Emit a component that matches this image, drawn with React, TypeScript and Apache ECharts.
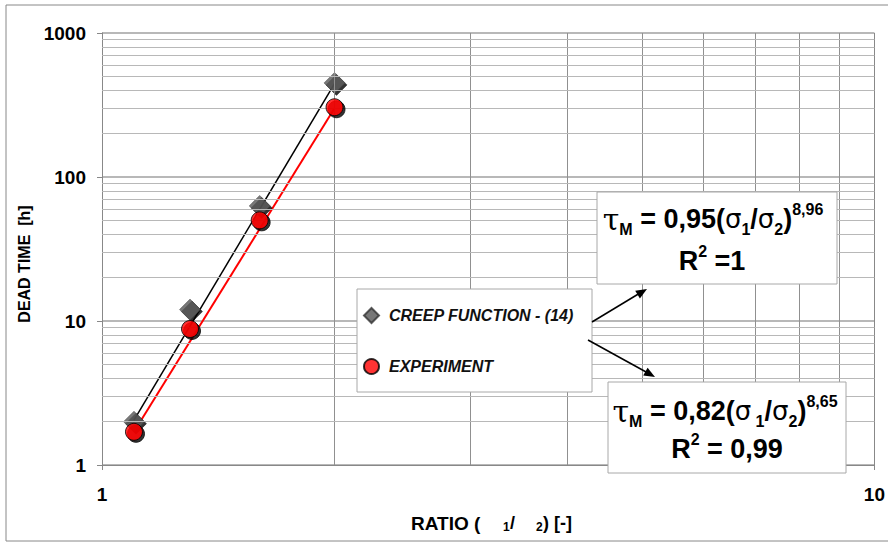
import React, { useEffect, useRef } from "react";
import * as echarts from "echarts";

const X_VALUES = [1.1, 1.3, 1.6, 2.0];
const CREEP = [2.0, 12, 63, 450];
const EXPERIMENT = [1.7, 8.8, 50, 305];
const FIT_X = [1.1, 2.0];
const CREEP_FIT = [2.05, 445];
const EXP_FIT = [1.7, 300];
const X_MINOR = [2, 3, 4, 5, 6, 7, 8, 9];
const Y_MINOR = [2, 3, 4, 5, 6, 7, 8, 9, 20, 30, 40, 50, 60, 70, 80, 90, 200, 300, 400, 500, 600, 700, 800, 900];
const LEGEND_NAMES = ["CREEP FUNCTION - (14)", "EXPERIMENT"];

const FONT = "'Liberation Sans', Arial, sans-serif";

export default function App() {
  const ref = useRef<HTMLDivElement>(null);
  useEffect(() => {
    if (!ref.current) return;
    const chart = echarts.init(ref.current, null, { renderer: "svg" });
    const shadow = { shadowColor: "#000", shadowBlur: 0, shadowOffsetX: 2, shadowOffsetY: 2 };
    const eqRich = {
      t: { fontFamily: "'DejaVu Serif', serif", fontSize: 30, fontWeight: "normal", color: "#000", lineHeight: 36 },
      g: { fontFamily: "'DejaVu Sans', sans-serif", fontSize: 26, fontWeight: "normal", color: "#000", lineHeight: 36 },
      m: { fontFamily: FONT, fontSize: 27, fontWeight: "bold", color: "#000", lineHeight: 36 },
      s: { fontFamily: FONT, fontSize: 16, fontWeight: "bold", color: "#000", lineHeight: 16, verticalAlign: "bottom" },
      p: { fontFamily: FONT, fontSize: 16, fontWeight: "bold", color: "#000", lineHeight: 16, verticalAlign: "top" },
    };
    const option: any = {
      animation: false,
      backgroundColor: "#fff",
      grid: { left: 102, right: 13, top: 33, bottom: 78, containLabel: false },
      xAxis: {
        type: "log",
        logBase: 10,
        min: 1,
        max: 10,
        axisLine: { show: true, lineStyle: { color: "#888", width: 1 } },
        axisTick: { show: true, length: 5, lineStyle: { color: "#888" } },
        axisLabel: { fontFamily: FONT, fontSize: 19, fontWeight: "bold", color: "#000", margin: 20, formatter: (v: number) => String(v) },
        splitLine: { show: true, lineStyle: { color: "#888", width: 1 } },
      },
      yAxis: {
        type: "log",
        logBase: 10,
        min: 1,
        max: 1000,
        axisLine: { show: true, lineStyle: { color: "#888", width: 1 } },
        axisTick: { show: true, length: 5, lineStyle: { color: "#888" } },
        axisLabel: { fontFamily: FONT, fontSize: 19, fontWeight: "bold", color: "#000", margin: 16, formatter: (v: number) => String(v) },
        splitLine: { show: true, lineStyle: { color: "#a0a0a0", width: 1.5 } },
      },
      legend: {
        orient: "vertical",
        left: 363,
        top: 307,
        padding: 0,
        itemGap: 34,
        itemWidth: 15,
        itemHeight: 15,
        z: 110,
        data: [
          { name: LEGEND_NAMES[0], icon: "diamond" },
          { name: LEGEND_NAMES[1], icon: "circle" },
        ],
        textStyle: {
          fontFamily: FONT,
          fontSize: 16,
          fontWeight: "bold",
          fontStyle: "italic",
          color: "#111",
          padding: [0, 0, 0, 5],
          lineHeight: 16,
        },
      },
      series: [
        {
          name: "grid-minor",
          type: "line",
          data: [],
          z: 1,
          silent: true,
          markLine: {
            silent: true,
            symbol: "none",
            label: { show: false },
            animation: false,
            data: [
              ...X_MINOR.map((v) => ({ xAxis: v, lineStyle: { color: "#909090", width: 1, type: "solid" } })),
              ...Y_MINOR.map((v) => ({ yAxis: v, lineStyle: { color: "#b8b8b8", width: 1, type: "solid" } })),
            ],
          },
        },
        {
          name: "creep fit",
          type: "line",
          data: FIT_X.map((x, i) => [x, CREEP_FIT[i]]),
          showSymbol: false,
          symbol: "none",
          lineStyle: { color: "#000", width: 1.5 },
          z: 3,
        },
        {
          name: "exp fit",
          type: "line",
          data: FIT_X.map((x, i) => [x, EXP_FIT[i]]),
          showSymbol: false,
          symbol: "none",
          lineStyle: { color: "#ff0000", width: 2 },
          z: 3,
        },
        {
          name: LEGEND_NAMES[0],
          type: "scatter",
          symbol: "diamond",
          symbolSize: 21,
          data: X_VALUES.map((x, i) => [x, CREEP[i]]),
          itemStyle: { color: "#555555", borderColor: "#333", borderWidth: 0.5, ...shadow },
          z: 4,
        },
        {
          name: LEGEND_NAMES[1],
          type: "scatter",
          symbol: "circle",
          symbolSize: 17,
          data: X_VALUES.map((x, i) => [x, EXPERIMENT[i]]),
          itemStyle: { color: "#ff0000", borderColor: "#000", borderWidth: 1, ...shadow },
          z: 5,
        },
      ],
      graphic: [
        {
          type: "rect",
          shape: { x: 6, y: 5, width: 900, height: 536 },
          style: { fill: "none", stroke: "#888", lineWidth: 1 },
          silent: true,
          z: 0,
        },
        {
          type: "text",
          x: 24,
          y: 264,
          rotation: Math.PI / 2,
          z: 100,
          style: {
            text: "DEAD TIME  [h]",
            fontFamily: FONT,
            fontSize: 16,
            fontWeight: "bold",
            fill: "#000",
            align: "center",
            verticalAlign: "middle",
          },
        },
        {
          type: "text",
          x: 411,
          y: 523,
          z: 100,
          style: {
            text: "RATIO (",
            fontFamily: FONT,
            fontSize: 19,
            fontWeight: "bold",
            fill: "#000",
            align: "left",
            verticalAlign: "middle",
          },
        },
        {
          type: "text",
          x: 503,
          y: 527,
          z: 100,
          style: { text: "1", fontFamily: FONT, fontSize: 12, fontWeight: "bold", fill: "#000", align: "left", verticalAlign: "middle" },
        },
        {
          type: "text",
          x: 510,
          y: 523,
          z: 100,
          style: { text: "/", fontFamily: FONT, fontSize: 18, fontWeight: "bold", fill: "#000", align: "left", verticalAlign: "middle" },
        },
        {
          type: "text",
          x: 536,
          y: 527,
          z: 100,
          style: { text: "2", fontFamily: FONT, fontSize: 12, fontWeight: "bold", fill: "#000", align: "left", verticalAlign: "middle" },
        },
        {
          type: "text",
          x: 543,
          y: 523,
          z: 100,
          style: { text: ") [-]", fontFamily: FONT, fontSize: 18, fontWeight: "bold", fill: "#000", align: "left", verticalAlign: "middle" },
        },
        // legend box
        {
          type: "rect",
          shape: { x: 357, y: 289, width: 235, height: 103 },
          style: { fill: "#fff", stroke: "#a8a8a8", lineWidth: 1 },
          z: 100,
        },
        // equation box 1
        {
          type: "rect",
          shape: { x: 597, y: 192, width: 240, height: 92 },
          style: { fill: "#fff", stroke: "#a8a8a8", lineWidth: 1 },
          z: 100,
        },
        {
          type: "text",
          x: 713,
          y: 219,
          z: 101,
          style: {
            text: "{t|τ}{s|M}{m| = 0,95(}{g|σ}{s|1}{m|/}{g|σ}{s|2}{m|)}{p|8,96}",
            rich: eqRich,
            align: "center",
            verticalAlign: "middle",
          },
        },
        {
          type: "text",
          x: 712,
          y: 261,
          z: 101,
          style: {
            text: "{m|R}{p|2}{m| =1}",
            rich: eqRich,
            align: "center",
            verticalAlign: "middle",
          },
        },
        // equation box 2
        {
          type: "rect",
          shape: { x: 608, y: 382, width: 238, height: 91 },
          style: { fill: "#fff", stroke: "#a8a8a8", lineWidth: 1 },
          z: 100,
        },
        {
          type: "text",
          x: 725,
          y: 411,
          z: 101,
          style: {
            text: "{t|τ}{s|M}{m| = 0,82(}{g|σ}{s| 1}{m|/}{g|σ}{s|2}{m|)}{p|8,65}",
            rich: eqRich,
            align: "center",
            verticalAlign: "middle",
          },
        },
        {
          type: "text",
          x: 727,
          y: 449,
          z: 101,
          style: {
            text: "{m|R}{p|2}{m| = 0,99}",
            rich: eqRich,
            align: "center",
            verticalAlign: "middle",
          },
        },
        // arrows
        {
          type: "line",
          shape: { x1: 592, y1: 322, x2: 640, y2: 293 },
          style: { stroke: "#000", lineWidth: 1.5 },
          z: 102,
        },
        {
          type: "polygon",
          shape: { points: [[647, 289], [639.9, 298.5], [635.2, 290.8]] },
          style: { fill: "#000" },
          z: 102,
        },
        {
          type: "line",
          shape: { x1: 588, y1: 340, x2: 647, y2: 372.5 },
          style: { stroke: "#000", lineWidth: 1.5 },
          z: 102,
        },
        {
          type: "polygon",
          shape: { points: [[655, 377], [643.2, 375.6], [647.6, 367.8]] },
          style: { fill: "#000" },
          z: 102,
        },
      ],
    };
    chart.setOption(option);
    return () => chart.dispose();
  }, []);
  return (
    <div
      ref={ref}
      style={{ position: "fixed", left: 0, top: 0, width: 888, height: 543, background: "#fff" }}
    />
  );
}
